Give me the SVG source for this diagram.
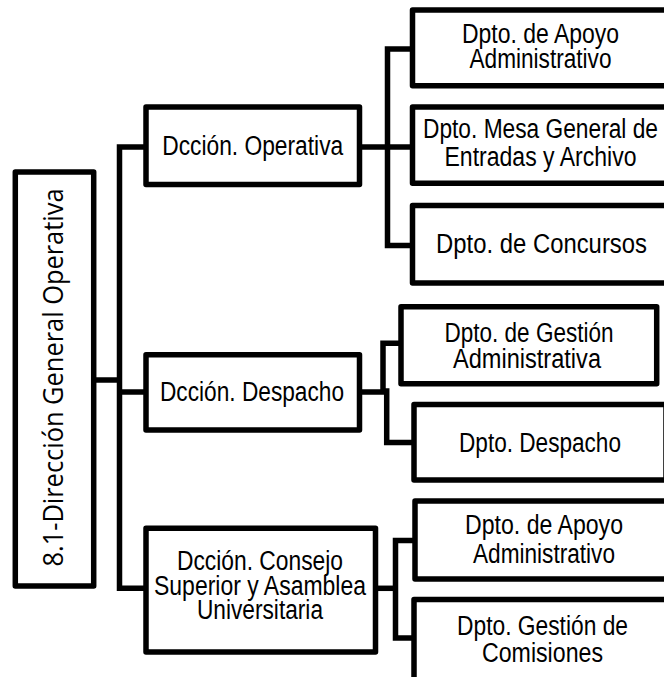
<svg xmlns="http://www.w3.org/2000/svg" width="664" height="677" viewBox="0 0 664 677">
<style>
.box{fill:#fff;stroke:#000;stroke-width:5.5;stroke-linejoin:round}
.ln{fill:none;stroke:#000;stroke-width:5.5;stroke-linejoin:miter}
.t{font-family:"Liberation Sans",Arial,sans-serif;font-size:27px;fill:#000;text-anchor:middle}
.v{font-family:"Open Sans","Noto Sans",sans-serif;font-size:28px;fill:#000;text-anchor:middle}
</style>
<rect width="664" height="677" fill="#fff"/>
<g id="connectors">
<path class="ln" d="M93.7,380 H119.5"/>
<path class="ln" d="M146,147 H119.5 V588.3 H146"/>
<path class="ln" d="M119.5,392 H146"/>
<path class="ln" d="M359.5,147 H387.5"/>
<path class="ln" d="M412.5,49 H387.5 V245.5 H412.5"/>
<path class="ln" d="M387.5,147 H412.5"/>
<path class="ln" d="M359.5,392 H383 V343.3 H401"/>
<path class="ln" d="M383,391 H386.7 V442.5 H414"/>
<path class="ln" d="M375.5,588.3 H395.5"/>
<path class="ln" d="M415,540.5 H395.5 V638 H415"/>
</g>
<g id="main">
<rect class="box" x="15.3" y="172" width="78.4" height="414"/>
<text class="v" transform="translate(63.3,377.5) rotate(-90)" textLength="378" lengthAdjust="spacingAndGlyphs">8.1-Dirección General Operativa</text>
</g>
<g id="dccion-operativa">
<rect class="box" x="146" y="107" width="213.5" height="77.5"/>
<text class="t" x="252.7" y="155" textLength="181" lengthAdjust="spacingAndGlyphs">Dcción. Operativa</text>
</g>
<g id="dccion-despacho">
<rect class="box" x="146" y="354.7" width="213.5" height="75.3"/>
<text class="t" x="252" y="401" textLength="184" lengthAdjust="spacingAndGlyphs">Dcción. Despacho</text>
</g>
<g id="dccion-consejo">
<rect class="box" x="146" y="528.3" width="229.5" height="123.7"/>
<text class="t" x="260" y="570" textLength="166" lengthAdjust="spacingAndGlyphs">Dcción. Consejo</text>
<text class="t" x="260" y="595" textLength="212" lengthAdjust="spacingAndGlyphs">Superior y Asamblea</text>
<text class="t" x="260" y="619" textLength="126" lengthAdjust="spacingAndGlyphs">Universitaria</text>
</g>
<g id="dpto-apoyo-1">
<rect class="box" x="412.5" y="10" width="256" height="75.8"/>
<text class="t" x="540.5" y="42.5" textLength="157" lengthAdjust="spacingAndGlyphs">Dpto. de Apoyo</text>
<text class="t" x="540.5" y="68" textLength="142" lengthAdjust="spacingAndGlyphs">Administrativo</text>
</g>
<g id="dpto-mesa">
<rect class="box" x="412.5" y="107" width="256" height="76.3"/>
<text class="t" x="540.5" y="138" textLength="235" lengthAdjust="spacingAndGlyphs">Dpto. Mesa General de</text>
<text class="t" x="540.5" y="165.5" textLength="192" lengthAdjust="spacingAndGlyphs">Entradas y Archivo</text>
</g>
<g id="dpto-concursos">
<rect class="box" x="412.5" y="205.5" width="256" height="77.5"/>
<text class="t" x="541.5" y="252.5" textLength="211" lengthAdjust="spacingAndGlyphs">Dpto. de Concursos</text>
</g>
<g id="dpto-gestion-adm">
<rect class="box" x="401" y="306.7" width="255.7" height="77.1"/>
<text class="t" x="529" y="342" textLength="169" lengthAdjust="spacingAndGlyphs">Dpto. de Gestión</text>
<text class="t" x="527" y="368" textLength="148" lengthAdjust="spacingAndGlyphs">Administrativa</text>
</g>
<g id="dpto-despacho">
<rect class="box" x="414" y="404.5" width="252" height="75.5"/>
<text class="t" x="540" y="452" textLength="162" lengthAdjust="spacingAndGlyphs">Dpto. Despacho</text>
</g>
<g id="dpto-apoyo-2">
<rect class="box" x="415" y="501" width="258" height="78"/>
<text class="t" x="544" y="534" textLength="158" lengthAdjust="spacingAndGlyphs">Dpto. de Apoyo</text>
<text class="t" x="544" y="563" textLength="142" lengthAdjust="spacingAndGlyphs">Administrativo</text>
</g>
<g id="dpto-comisiones">
<rect class="box" x="414" y="599.5" width="258" height="90"/>
<text class="t" x="542.5" y="635" textLength="171" lengthAdjust="spacingAndGlyphs">Dpto. Gestión de</text>
<text class="t" x="542.5" y="662" textLength="121" lengthAdjust="spacingAndGlyphs">Comisiones</text>
</g>
</svg>
